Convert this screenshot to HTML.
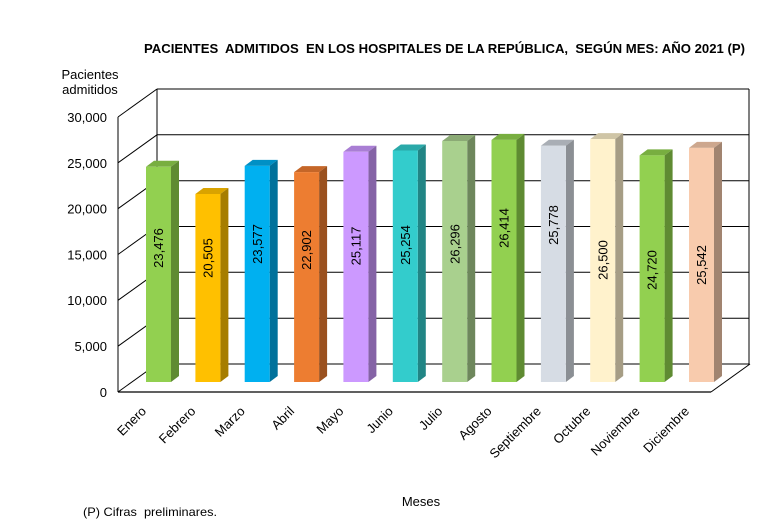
<!DOCTYPE html>
<html>
<head>
<meta charset="utf-8">
<style>
html,body{margin:0;padding:0;background:#fff;}
svg{display:block;}
text{font-family:"Liberation Sans",Arial,sans-serif;fill:#000;}
.pre{white-space:pre;}
</style>
</head>
<body>
<svg width="774" height="524" viewBox="0 0 774 524" xmlns="http://www.w3.org/2000/svg">
<rect width="774" height="524" fill="#fff"/>
<!-- Title -->
<text class="pre" x="144" y="53" font-size="12.5" font-weight="bold" textLength="601" lengthAdjust="spacingAndGlyphs">PACIENTES  ADMITIDOS  EN LOS HOSPITALES DE LA REPÚBLICA,  SEGÚN MES: AÑO 2021 (P)</text>
<!-- Y axis title -->
<text x="90" y="79" font-size="13" text-anchor="middle">Pacientes</text>
<text x="90" y="94" font-size="13" text-anchor="middle">admitidos</text>

<!-- Walls / grid -->
<g stroke="#000" stroke-width="1" fill="none">
  <line x1="157" y1="89" x2="749" y2="89"/>
  <line x1="157" y1="134.8" x2="749" y2="134.8"/>
  <line x1="157" y1="180.7" x2="749" y2="180.7"/>
  <line x1="157" y1="226.5" x2="749" y2="226.5"/>
  <line x1="157" y1="272.3" x2="749" y2="272.3"/>
  <line x1="157" y1="318.2" x2="749" y2="318.2"/>
  <line x1="157" y1="364" x2="749" y2="364"/>
  <line x1="157" y1="89" x2="157" y2="364"/>
  <line x1="749" y1="89" x2="749" y2="364"/>
  <line x1="118" y1="117" x2="157" y2="89"/>
  <line x1="118" y1="162.8" x2="157" y2="134.8"/>
  <line x1="118" y1="208.7" x2="157" y2="180.7"/>
  <line x1="118" y1="254.5" x2="157" y2="226.5"/>
  <line x1="118" y1="300.3" x2="157" y2="272.3"/>
  <line x1="118" y1="346.2" x2="157" y2="318.2"/>
  <line x1="118" y1="392" x2="157" y2="364"/>
  <line x1="118" y1="117" x2="118" y2="392"/>
  <line x1="118" y1="392" x2="711" y2="392" stroke-width="1.3"/>
  <line x1="711" y1="392" x2="750" y2="364"/>
</g>

<!-- Y tick labels -->
<g font-size="13" text-anchor="end">
  <text x="107" y="122">30,000</text>
  <text x="107" y="168">25,000</text>
  <text x="107" y="213.5">20,000</text>
  <text x="107" y="259.5">15,000</text>
  <text x="107" y="305">10,000</text>
  <text x="107" y="351">5,000</text>
  <text x="107" y="397">0</text>
</g>

<!-- Bars -->
<g id="bars">
<polygon points="146,166.8 154,160.8 179,160.8 171,166.8" fill="#78AE40"/>
<polygon points="171,382 171,166.8 179,160.8 179,376" fill="#5F8B32"/>
<rect x="146" y="166.8" width="25" height="215.2" fill="#92D050"/>

<polygon points="195.4,194 203.4,188 228.4,188 220.4,194" fill="#D9A300"/>
<polygon points="220.4,382 220.4,194 228.4,188 228.4,376" fill="#A67D00"/>
<rect x="195.4" y="194" width="25" height="188" fill="#FFC000"/>

<polygon points="244.7,165.9 252.7,159.9 277.7,159.9 269.7,165.9" fill="#0090C5"/>
<polygon points="269.7,382 269.7,165.9 277.7,159.9 277.7,376" fill="#00719B"/>
<rect x="244.7" y="165.9" width="25" height="216.1" fill="#00B0F0"/>

<polygon points="294.1,172.1 302.1,166.1 327.1,166.1 319.1,172.1" fill="#C56628"/>
<polygon points="319.1,382 319.1,172.1 327.1,166.1 327.1,376" fill="#9A511F"/>
<rect x="294.1" y="172.1" width="25" height="209.9" fill="#ED7D31"/>

<polygon points="343.4,151.8 351.4,145.8 376.4,145.8 368.4,151.8" fill="#A97ED4"/>
<polygon points="368.4,382 368.4,151.8 376.4,145.8 376.4,376" fill="#8563A6"/>
<rect x="343.4" y="151.8" width="25" height="230.2" fill="#CC99FF"/>

<polygon points="392.8,150.5 400.8,144.5 425.8,144.5 417.8,150.5" fill="#2AA9A9"/>
<polygon points="417.8,382 417.8,150.5 425.8,144.5 425.8,376" fill="#218585"/>
<rect x="392.8" y="150.5" width="25" height="231.5" fill="#33CCCC"/>

<polygon points="442.2,141 450.2,135 475.2,135 467.2,141" fill="#8BAA75"/>
<polygon points="467.2,382 467.2,141 475.2,135 475.2,376" fill="#6E875C"/>
<rect x="442.2" y="141" width="25" height="241" fill="#A9D08E"/>

<polygon points="491.5,139.9 499.5,133.9 524.5,133.9 516.5,139.9" fill="#78AE40"/>
<polygon points="516.5,382 516.5,139.9 524.5,133.9 524.5,376" fill="#5F8B32"/>
<rect x="491.5" y="139.9" width="25" height="242.1" fill="#92D050"/>

<polygon points="540.9,145.7 548.9,139.7 573.9,139.7 565.9,145.7" fill="#A9AEB5"/>
<polygon points="565.9,382 565.9,145.7 573.9,139.7 573.9,376" fill="#8B8F94"/>
<rect x="540.9" y="145.7" width="25" height="236.3" fill="#D6DCE4"/>

<polygon points="590.2,139.1 598.2,133.1 623.2,133.1 615.2,139.1" fill="#CFC5A6"/>
<polygon points="615.2,382 615.2,139.1 623.2,133.1 623.2,376" fill="#A69D85"/>
<rect x="590.2" y="139.1" width="25" height="242.9" fill="#FFF2CC"/>

<polygon points="639.6,155.4 647.6,149.4 672.6,149.4 664.6,155.4" fill="#78AE40"/>
<polygon points="664.6,382 664.6,155.4 672.6,149.4 672.6,376" fill="#5F8B32"/>
<rect x="639.6" y="155.4" width="25" height="226.6" fill="#92D050"/>

<polygon points="689,147.9 697,141.9 722,141.9 714,147.9" fill="#CDA78E"/>
<polygon points="714,382 714,147.9 722,141.9 722,376" fill="#A18470"/>
<rect x="689" y="147.9" width="25" height="234.1" fill="#F8CBAD"/>
</g>

<!-- Value labels -->
<g font-size="13" text-anchor="middle">
  <text transform="translate(158.5,248) rotate(-90)" dy="4.6">23,476</text>
  <text transform="translate(207.9,258) rotate(-90)" dy="4.6">20,505</text>
  <text transform="translate(257.2,244) rotate(-90)" dy="4.6">23,577</text>
  <text transform="translate(306.6,250) rotate(-90)" dy="4.6">22,902</text>
  <text transform="translate(355.9,246) rotate(-90)" dy="4.6">25,117</text>
  <text transform="translate(405.3,245) rotate(-90)" dy="4.6">25,254</text>
  <text transform="translate(454.7,244) rotate(-90)" dy="4.6">26,296</text>
  <text transform="translate(504,228) rotate(-90)" dy="4.6">26,414</text>
  <text transform="translate(553.4,225) rotate(-90)" dy="4.6">25,778</text>
  <text transform="translate(602.7,260) rotate(-90)" dy="4.6">26,500</text>
  <text transform="translate(652.1,270) rotate(-90)" dy="4.6">24,720</text>
  <text transform="translate(701.5,265) rotate(-90)" dy="4.6">25,542</text>
</g>

<!-- Month labels -->
<g font-size="13" text-anchor="end">
  <text transform="translate(147,412) rotate(-45)">Enero</text>
  <text transform="translate(196.4,412) rotate(-45)">Febrero</text>
  <text transform="translate(245.7,412) rotate(-45)">Marzo</text>
  <text transform="translate(295.1,412) rotate(-45)">Abril</text>
  <text transform="translate(344.4,412) rotate(-45)">Mayo</text>
  <text transform="translate(393.8,412) rotate(-45)">Junio</text>
  <text transform="translate(443.2,412) rotate(-45)">Julio</text>
  <text transform="translate(492.5,412) rotate(-45)">Agosto</text>
  <text transform="translate(541.9,412) rotate(-45)">Septiembre</text>
  <text transform="translate(591.2,412) rotate(-45)">Octubre</text>
  <text transform="translate(640.6,412) rotate(-45)">Noviembre</text>
  <text transform="translate(690,412) rotate(-45)">Diciembre</text>
</g>

<!-- X axis title -->
<text x="421" y="506" font-size="13" text-anchor="middle">Meses</text>
<!-- Footnote -->
<text class="pre" x="83" y="516" font-size="12" textLength="134" lengthAdjust="spacingAndGlyphs">(P) Cifras  preliminares.</text>
</svg>
</body>
</html>
